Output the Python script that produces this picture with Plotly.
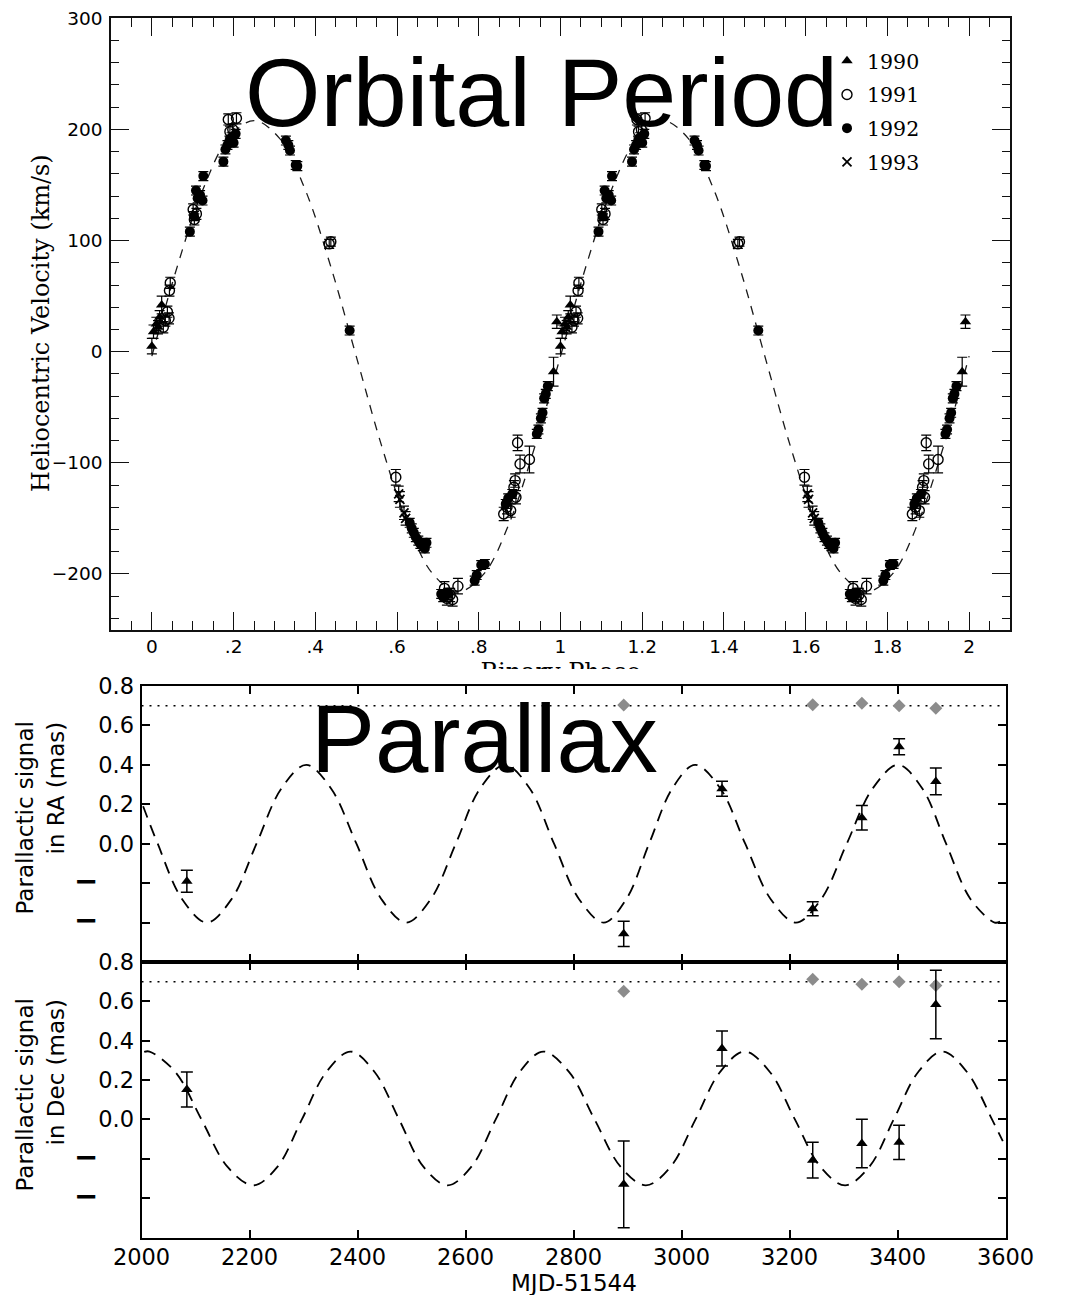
import plotly.graph_objects as go

W, H = 1075, 1295

# ---------------- Orbital period: radial velocities folded on phase ----------------
PHASE_1990 = [0.000, 0.004, 0.011, 0.015, 0.019, 0.024, 0.983, 0.991]
VEL_1990 = [5, 18, 25, 22, 31, 42, -18, 27]
ERR_1990 = [7, 6, 6, 6, 6, 8, 13, 6]

PHASE_1991 = [0.028, 0.033, 0.038, 0.042, 0.043, 0.045, 0.101, 0.104, 0.109, 0.187,
              0.191, 0.198, 0.207, 0.434, 0.438, 0.597, 0.716, 0.722, 0.730, 0.736,
              0.749, 0.861, 0.869, 0.878, 0.886, 0.889, 0.891, 0.895, 0.901, 0.924]
VEL_1991 = [22, 28, 36, 30, 55, 62, 128, 119, 124, 209,
            198, 200, 210, 97, 99, -113, -213, -222, -219, -223,
            -211, -146, -140, -143, -122, -116, -131, -82, -101, -97]
ERR_1991 = [5, 5, 5, 5, 5, 5, 5, 5, 5, 5,
            5, 5, 5, 4, 4, 7, 6, 6, 6, 6,
            7, 6, 6, 6, 6, 6, 6, 7, 8, 12]

PHASE_1992 = [0.093, 0.103, 0.108, 0.112, 0.118, 0.124, 0.126, 0.175, 0.180, 0.185,
              0.190, 0.195, 0.200, 0.205, 0.328, 0.334, 0.338, 0.352, 0.356, 0.484,
              0.631, 0.636, 0.641, 0.646, 0.652, 0.657, 0.663, 0.668, 0.672, 0.708,
              0.713, 0.720, 0.725, 0.790, 0.795, 0.806, 0.815, 0.866, 0.872, 0.882,
              0.942, 0.946, 0.952, 0.956, 0.960, 0.964, 0.969]
VEL_1992 = [108, 122, 145, 138, 141, 136, 158, 171, 182, 186,
            190, 193, 188, 196, 190, 186, 181, 168, 167, 19,
            -154, -159, -163, -167, -170, -173, -175, -177, -172, -218,
            -221, -219, -217, -206, -201, -192, -191, -137, -132, -128,
            -74, -70, -60, -55, -42, -38, -31]
ERR_1992 = [4, 4, 4, 4, 4, 4, 4, 4, 4, 4,
            4, 4, 4, 4, 4, 4, 4, 4, 4, 4,
            4, 4, 4, 4, 4, 4, 4, 4, 4, 4,
            4, 4, 4, 4, 4, 4, 4, 4, 4, 4,
            4, 4, 4, 4, 4, 4, 4]

PHASE_1993 = [0.604, 0.607, 0.617, 0.621]
VEL_1993 = [-128, -133, -145, -150]
ERR_1993 = [7, 7, 6, 6]

# fitted velocity curve, one cycle sampled every 1/16 in phase
MODEL_PHASE = [0.0, 0.0625, 0.125, 0.1875, 0.25, 0.3125, 0.375, 0.4375, 0.5,
               0.5625, 0.625, 0.6875, 0.75, 0.8125, 0.875, 0.9375]
MODEL_VEL = [-4, 77, 146, 192, 208, 192, 146, 77, -4,
             -85, -154, -200, -216, -200, -154, -85]

PHASE_TICKS = [0, 0.2, 0.4, 0.6, 0.8, 1, 1.2, 1.4, 1.6, 1.8, 2]
PHASE_LABELS = ["0", ".2", ".4", ".6", ".8", "1", "1.2", "1.4", "1.6", "1.8", "2"]

# ---------------- Parallax: astrometric residual signal ----------------
MJD_EPOCH = [2084, 2893, 3075, 3243, 3334, 3403, 3471]
RA_SIGNAL = [-0.190, -0.457, 0.279, -0.330, 0.132, 0.492, 0.316]
RA_ERR = [0.056, 0.064, 0.038, 0.036, 0.062, 0.041, 0.068]
DEC_SIGNAL = [0.152, -0.330, 0.360, -0.207, -0.122, -0.116, 0.584]
DEC_ERR = [0.089, 0.220, 0.089, 0.091, 0.123, 0.087, 0.174]

MJD_REF = [2893, 3243, 3334, 3403, 3471]
RA_REF = [0.703, 0.705, 0.712, 0.700, 0.687]
DEC_REF = [0.651, 0.712, 0.687, 0.700, 0.680]
REF_LEVEL = 0.7

# parallactic ellipse model projected on RA and Dec
RA_MODEL_MJD = [2003, 2030, 2075, 2121, 2167, 2213, 2259, 2305, 2351, 2398, 2444, 2490,
                2536, 2582, 2627, 2673, 2719, 2764, 2810, 2856, 2898, 2940, 2983, 3025,
                3072, 3118, 3165, 3212, 3259, 3306, 3354, 3401, 3446, 3490, 3535, 3580, 3590]
RA_MODEL = [0.19, 0.0, -0.28, -0.40, -0.28, 0.0, 0.28, 0.40, 0.28, 0.0, -0.28, -0.40,
            -0.28, 0.0, 0.28, 0.40, 0.28, 0.0, -0.28, -0.40, -0.28, 0.0, 0.28, 0.40,
            0.28, 0.0, -0.28, -0.40, -0.28, 0.0, 0.28, 0.40, 0.28, 0.0, -0.28, -0.40, -0.395]

DEC_MODEL_MJD = [2005, 2015, 2063, 2111, 2159, 2207, 2252, 2297, 2342, 2387, 2432, 2477,
                 2522, 2567, 2611, 2656, 2700, 2744, 2792, 2839, 2887, 2934, 2980, 3026,
                 3071, 3117, 3164, 3210, 3257, 3303, 3348, 3393, 3438, 3483, 3529, 3575, 3595]
DEC_MODEL = [0.343, 0.345, 0.24, 0.0, -0.24, -0.335, -0.24, 0.0, 0.24, 0.345, 0.24, 0.0,
             -0.24, -0.335, -0.24, 0.0, 0.24, 0.345, 0.24, 0.0, -0.24, -0.335, -0.24, 0.0,
             0.24, 0.345, 0.24, 0.0, -0.24, -0.335, -0.24, 0.0, 0.24, 0.345, 0.24, 0.0, -0.11]

SIGNAL_TICKS = [-0.4, -0.2, 0.0, 0.2, 0.4, 0.6, 0.8]
NEG_LABEL = ('<span style="font-size:29px;font-weight:bold">\u2212</span>'
             '\u2007\u2008\u2007')
SIGNAL_LABELS = [NEG_LABEL, NEG_LABEL, "0.0", "0.2", "0.4", "0.6", "0.8"]


def px_x(p):
    return p / W


def px_y(p):
    return 1 - p / H


def both_cycles(phases):
    return list(phases) + [p + 1 for p in phases]


SERIF = "DejaVu Serif"
SANS = "DejaVu Sans"

fig = go.Figure()

# ---- top panel traces ----
fig.add_trace(go.Scatter(
    x=both_cycles(MODEL_PHASE) + [2.0], y=MODEL_VEL + MODEL_VEL + [MODEL_VEL[0]],
    mode="lines", line=dict(color="#1a1a1a", width=1.3, dash="9px,8px", shape="spline"),
    showlegend=False, hoverinfo="skip", xaxis="x", yaxis="y"))

series = [
    ("1990", PHASE_1990, VEL_1990, ERR_1990, dict(symbol="triangle-up", size=10, color="black")),
    ("1991", PHASE_1991, VEL_1991, ERR_1991,
     dict(symbol="circle-open", size=10, color="black", line=dict(width=1.4, color="black"))),
    ("1992", PHASE_1992, VEL_1992, ERR_1992, dict(symbol="circle", size=10, color="black")),
    ("1993", PHASE_1993, VEL_1993, ERR_1993,
     dict(symbol="x-thin", size=9, color="black", line=dict(width=1.8, color="black"))),
]
for name, ph, v, e, mk in series:
    fig.add_trace(go.Scatter(
        x=both_cycles(ph), y=v + v, name=name, legendgroup=name, mode="markers", marker=mk,
        error_y=dict(type="data", array=e + e, color="black", thickness=1.2, width=5),
        xaxis="x", yaxis="y"))

# ---- parallax panels ----
for ax, model_x, model_y, sig, err, ref in [
        ("2", RA_MODEL_MJD, RA_MODEL, RA_SIGNAL, RA_ERR, RA_REF),
        ("3", DEC_MODEL_MJD, DEC_MODEL, DEC_SIGNAL, DEC_ERR, DEC_REF)]:
    fig.add_trace(go.Scatter(
        x=[2000, 3600], y=[REF_LEVEL, REF_LEVEL], mode="lines",
        line=dict(color="black", width=1.5, dash="2px,6px"),
        showlegend=False, hoverinfo="skip", xaxis="x" + ax, yaxis="y" + ax))
    fig.add_trace(go.Scatter(
        x=model_x, y=model_y, mode="lines",
        line=dict(color="black", width=1.8, dash="12px,8px", shape="spline"),
        showlegend=False, hoverinfo="skip", xaxis="x" + ax, yaxis="y" + ax))
    fig.add_trace(go.Scatter(
        x=MJD_REF, y=ref, mode="markers",
        marker=dict(symbol="diamond", size=10, color="#8c8c8c"),
        showlegend=False, xaxis="x" + ax, yaxis="y" + ax))
    fig.add_trace(go.Scatter(
        x=MJD_EPOCH, y=sig, mode="markers",
        marker=dict(symbol="triangle-up", size=10, color="black"),
        error_y=dict(type="data", array=err, color="black", thickness=1.5, width=6),
        showlegend=False, xaxis="x" + ax, yaxis="y" + ax))

# x-axis title of the velocity panel, partly hidden under the parallax figure
fig.add_trace(go.Scatter(
    x=[0.5], y=[-0.166], mode="text", text=["Binary Phase"],
    textposition="middle center", textfont=dict(family=SERIF, size=24, color="black"),
    cliponaxis=True, showlegend=False, hoverinfo="skip", xaxis="x4", yaxis="y4"))

top_axis = dict(showline=True, linecolor="#111", linewidth=1.5, mirror="allticks",
                ticks="inside", tickcolor="#111", tickwidth=1.2, ticklen=18,
                showgrid=False, zeroline=False, automargin=False,
                tickfont=dict(family=SANS, size=18.5, color="black"))
bot_axis = dict(showline=True, linecolor="black", linewidth=2, mirror="allticks",
                ticks="inside", tickcolor="black", tickwidth=1.5, ticklen=8,
                showgrid=False, zeroline=False, automargin=False,
                tickfont=dict(family=SANS, size=22.5, color="black"))

fig.update_layout(
    width=W, height=H, autosize=False,
    margin=dict(l=0, r=0, t=0, b=0, pad=0, autoexpand=False),
    paper_bgcolor="white", plot_bgcolor="white",
    xaxis=dict(top_axis, domain=[px_x(111), px_x(1010)], range=[-0.1, 2.1], anchor="y",
               tickvals=PHASE_TICKS, ticktext=PHASE_LABELS, ticklabelstandoff=0,
               minor=dict(ticks="inside", ticklen=8.5, tickwidth=1, tickcolor="#111",
                          dtick=0.05, tick0=0, showgrid=False)),
    yaxis=dict(top_axis, domain=[px_y(629.5), px_y(18.3)], range=[-250, 300], anchor="x",
               dtick=100, tick0=0, ticklabelstandoff=3,
               minor=dict(ticks="inside", ticklen=8.5, tickwidth=1, tickcolor="#111",
                          dtick=20, tick0=0, showgrid=False)),
    xaxis2=dict(bot_axis, domain=[px_x(141.5), px_x(1005.5)], range=[2000, 3600],
                anchor="y2", dtick=200, tick0=2000, showticklabels=False),
    yaxis2=dict(bot_axis, domain=[px_y(962), px_y(686)], range=[-0.6, 0.8], anchor="x2",
                tickvals=SIGNAL_TICKS, ticktext=SIGNAL_LABELS, ticklabelstandoff=1),
    xaxis3=dict(bot_axis, domain=[px_x(141.5), px_x(1005.5)], range=[2000, 3600],
                anchor="y3", dtick=200, tick0=2000, ticklabelstandoff=-2),
    yaxis3=dict(bot_axis, domain=[px_y(1237.5), px_y(962)], range=[-0.6, 0.8], anchor="x3",
                tickvals=SIGNAL_TICKS, ticktext=SIGNAL_LABELS, ticklabelstandoff=1),
    xaxis4=dict(domain=[px_x(111), px_x(1010)], range=[0, 1], anchor="y4", visible=False,
                fixedrange=True, automargin=False),
    yaxis4=dict(domain=[px_y(669), px_y(640)], range=[0, 1], anchor="x4", visible=False,
                fixedrange=True, automargin=False),
    legend=dict(x=px_x(827), y=px_y(41), xanchor="left", yanchor="top",
                bgcolor="rgba(0,0,0,0)", borderwidth=0, tracegroupgap=4,
                font=dict(family=SERIF, size=20.5, color="black")),
    annotations=[
        dict(text="Heliocentric Velocity (km/s)", textangle=-90, x=px_x(41), y=px_y(323),
             xref="paper", yref="paper", showarrow=False, xanchor="center", yanchor="middle",
             font=dict(family=SERIF, size=24, color="black")),
        dict(text="Orbital Period", x=px_x(541), y=px_y(92), xref="paper", yref="paper",
             showarrow=False, xanchor="center", yanchor="middle",
             font=dict(family="Liberation Sans", size=97, color="black")),
        dict(text="Parallax", x=px_x(484), y=px_y(738), xref="paper", yref="paper",
             showarrow=False, xanchor="center", yanchor="middle",
             font=dict(family="Liberation Sans", size=96, color="black")),
        dict(text="Parallactic signal", textangle=-90, x=px_x(24), y=px_y(720),
             xref="paper", yref="paper", showarrow=False, xanchor="center", yanchor="top",
             font=dict(family=SANS, size=23, color="black")),
        dict(text="in RA (mas)", textangle=-90, x=px_x(55), y=px_y(720),
             xref="paper", yref="paper", showarrow=False, xanchor="center", yanchor="top",
             font=dict(family=SANS, size=23, color="black")),
        dict(text="Parallactic signal", textangle=-90, x=px_x(24), y=px_y(997),
             xref="paper", yref="paper", showarrow=False, xanchor="center", yanchor="top",
             font=dict(family=SANS, size=23, color="black")),
        dict(text="in Dec (mas)", textangle=-90, x=px_x(55), y=px_y(997),
             xref="paper", yref="paper", showarrow=False, xanchor="center", yanchor="top",
             font=dict(family=SANS, size=23, color="black")),
        dict(text="MJD-51544", x=px_x(573.5), y=px_y(1283), xref="paper", yref="paper",
             showarrow=False, xanchor="center", yanchor="middle",
             font=dict(family=SANS, size=23, color="black")),
    ],
)

fig.write_html("out.html")
